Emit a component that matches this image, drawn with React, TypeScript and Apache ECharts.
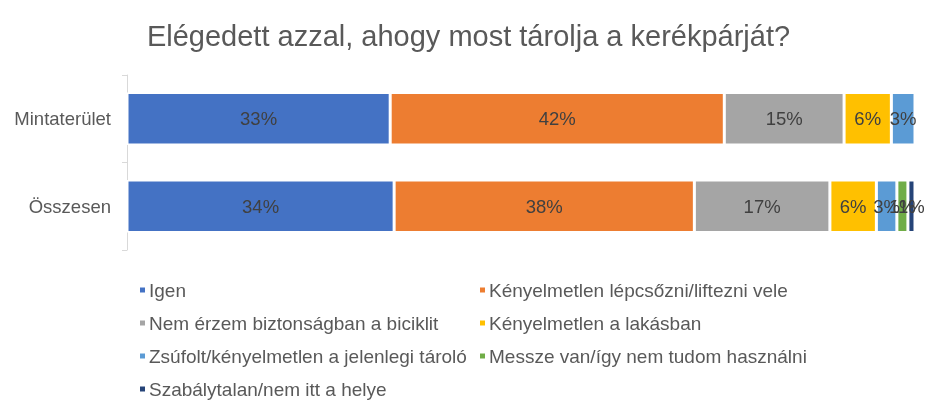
import React, { useEffect, useRef } from "react";
import * as echarts from "echarts";

const titleText = "Elégedett azzal, ahogy most tárolja a kerékpárját?";
const categories = ["Mintaterület", "Összesen"];
const seriesNames = [
  "Igen",
  "Kényelmetlen lépcsőzni/liftezni vele",
  "Nem érzem biztonságban a biciklit",
  "Kényelmetlen a lakásban",
  "Zsúfolt/kényelmetlen a jelenlegi tároló",
  "Messze van/így nem tudom használni",
  "Szabálytalan/nem itt a helye",
];
const igen = [33.4, 33.9];
const lepcso = [42.4, 38.1];
const biztonsag = [15.2, 17.2];
const lakas = [6.0, 5.9];
const zsufolt = [3.0, 2.6];
const messze = [0, 1.4];
const szabalytalan = [0, 0.9];
const seriesValues = [igen, lepcso, biztonsag, lakas, zsufolt, messze, szabalytalan];
const colors = ["#4472C4", "#ED7D31", "#A5A5A5", "#FFC000", "#5B9BD5", "#70AD47", "#264478"];
const legendCol1 = [seriesNames[0], seriesNames[2], seriesNames[4], seriesNames[6]];
const legendCol2 = [seriesNames[1], seriesNames[3], seriesNames[5]];

const FONT = "'Liberation Sans', Arial, sans-serif";

export default function App() {
  const ref = useRef<HTMLDivElement>(null);
  useEffect(() => {
    if (!ref.current) return;
    const chart = echarts.init(ref.current, null, { renderer: "svg" });
    const legendBase = {
      orient: "vertical",
      top: 275,
      height: 140,
      itemWidth: 7,
      itemHeight: 7,
      icon: "rect",
      itemGap: 13,
      selectedMode: false,
      textStyle: { color: "#595959", fontSize: 19, fontFamily: FONT, lineHeight: 20, padding: [0, 0, 0, -2] },
    };
    chart.setOption({
      animation: false,
      color: colors,
      textStyle: { fontFamily: FONT },
      title: {
        text: titleText,
        left: "center",
        top: 16,
        textStyle: { color: "#595959", fontSize: 29, fontWeight: "normal", fontFamily: FONT },
      },
      legend: [
        { ...legendBase, left: 133, data: legendCol1 },
        { ...legendBase, left: 473, data: legendCol2 },
      ],
      grid: { left: 127, right: 22, top: 75, bottom: 165, containLabel: false },
      xAxis: {
        type: "value",
        min: 0,
        max: 100,
        show: false,
      },
      yAxis: {
        type: "category",
        data: categories,
        inverse: true,
        axisLine: { show: true, lineStyle: { color: "#D9D9D9", width: 1 } },
        axisTick: { show: true, length: 5, lineStyle: { color: "#D9D9D9" } },
        axisLabel: { color: "#595959", fontSize: 18.5, fontFamily: FONT, margin: 16 },
      },
      series: seriesNames.map((name, i) => ({
        name,
        type: "bar",
        stack: "total",
        barCategoryGap: "40%",
        data: seriesValues[i].map((v) => (v === 0 ? null : v)),
        itemStyle: { color: colors[i], borderColor: "#FFFFFF", borderWidth: 1.5 },
        label: {
          show: true,
          position: "inside",
          color: "#404040",
          fontSize: 18.5,
          fontFamily: FONT,
          formatter: (p: any) => Math.round(p.value) + "%",
        },
      })),
    });
    return () => chart.dispose();
  }, []);
  return <div ref={ref} style={{ position: "fixed", left: 0, top: 0, width: 937, height: 415 }} />;
}
